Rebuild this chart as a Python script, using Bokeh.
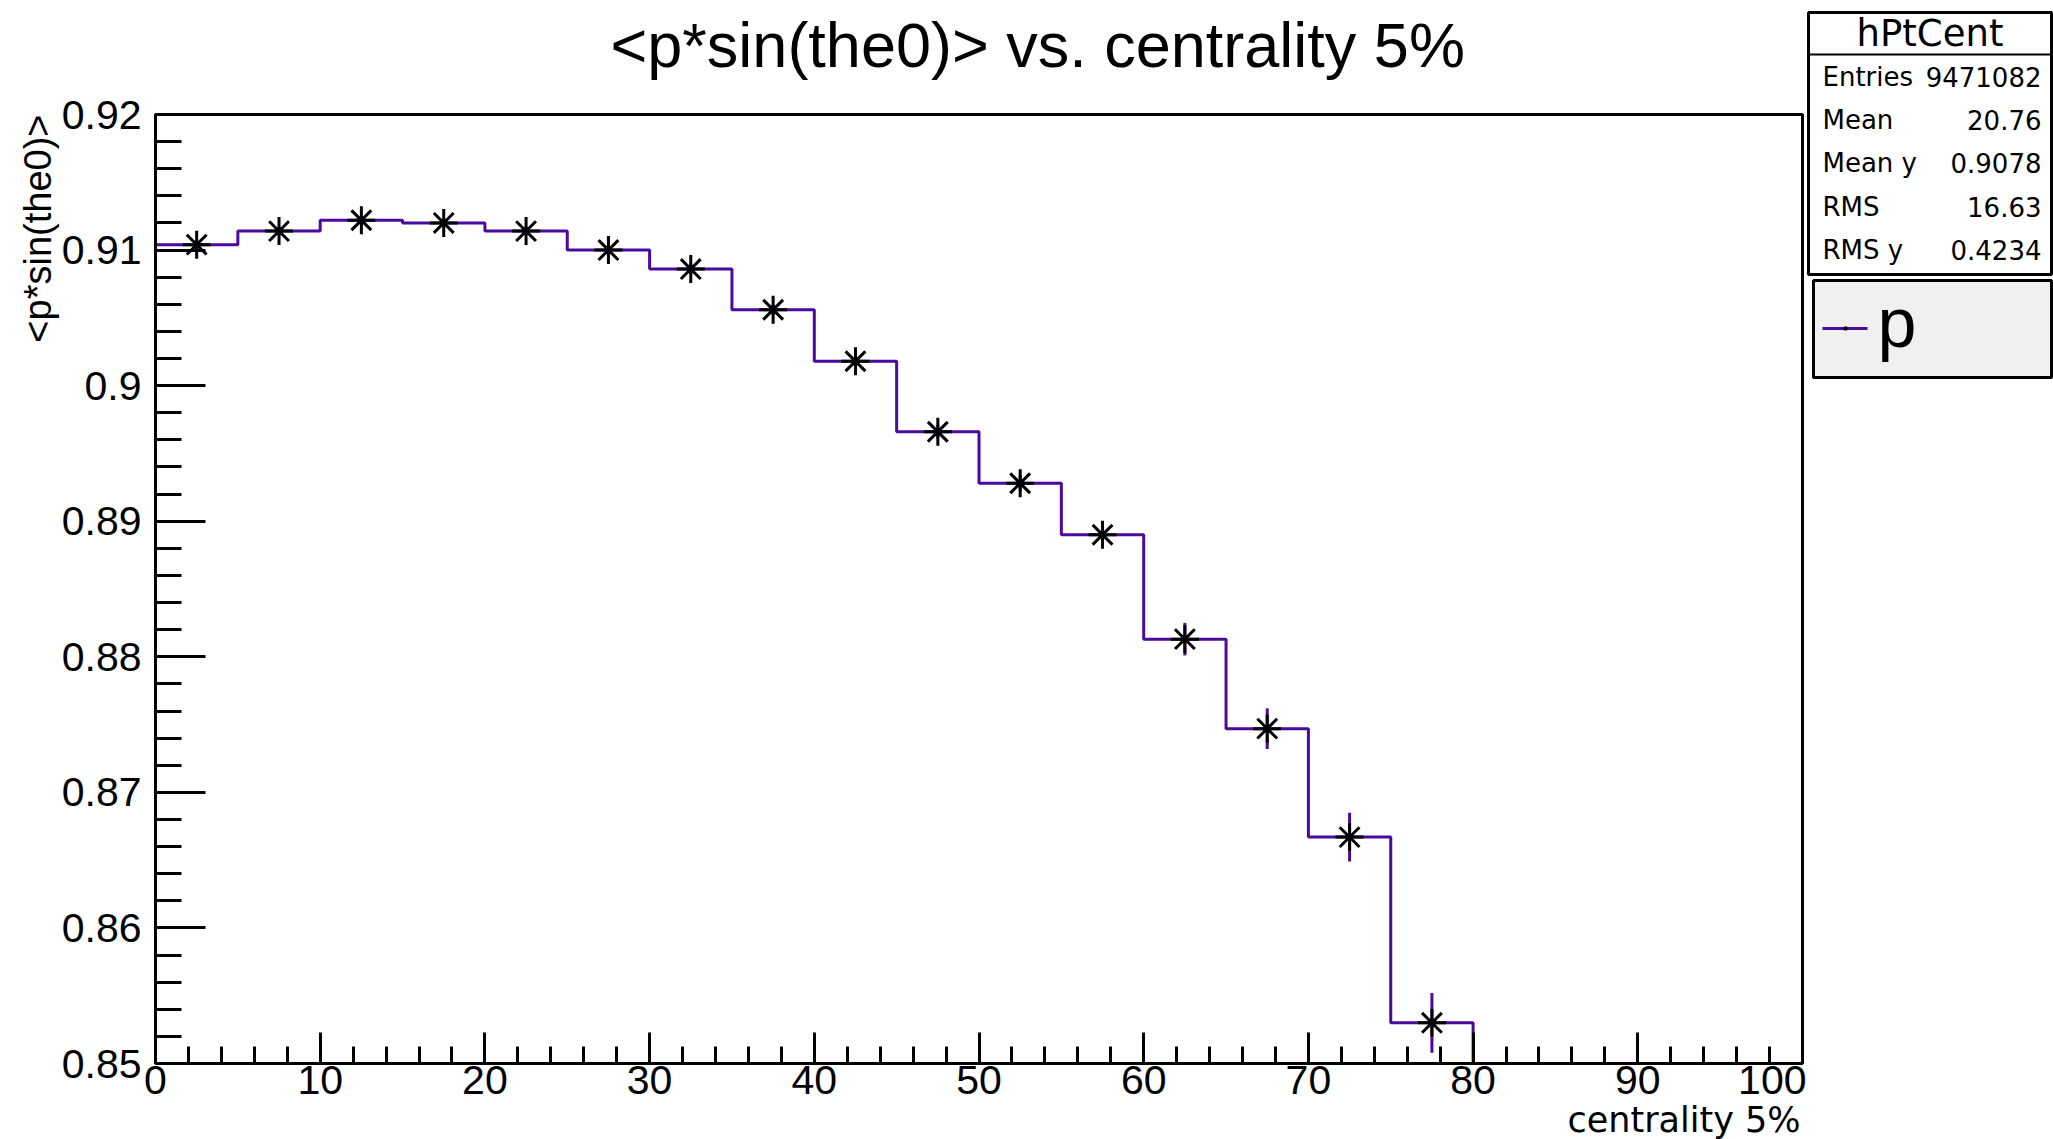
import math
from bokeh.plotting import figure
from bokeh.layouts import row, column
from bokeh.models import Range1d, FixedTicker, Title
from bokeh.core.properties import value
from bokeh.embed import file_html
from bokeh.resources import INLINE

# ---------------- data ----------------
bin_low = [0, 5, 10, 15, 20, 25, 30, 35, 40, 45, 50, 55, 60, 65, 70, 75, 80, 85, 90, 95]
bin_width = 5
mean_pt = [0.9104, 0.9114, 0.9122, 0.9120, 0.9114, 0.9100, 0.9086, 0.9056, 0.9018, 0.8966,
           0.8928, 0.8890, 0.8813, 0.8747, 0.8667, 0.8530, 0.0, 0.0, 0.0, 0.0]
mean_err = [0.0003, 0.0003, 0.0003, 0.0003, 0.0003, 0.0003, 0.0004, 0.0004, 0.0005, 0.0005,
            0.0006, 0.0008, 0.0012, 0.0015, 0.0018, 0.0022, 0.0, 0.0, 0.0, 0.0]
bin_filled = [True] * 16 + [False] * 4

x_ticks = [0, 10, 20, 30, 40, 50, 60, 70, 80, 90, 100]
x_tick_labels = ["0", "10", "20", "30", "40", "50", "60", "70", "80", "90", "100"]
y_ticks = [0.85, 0.86, 0.87, 0.88, 0.89, 0.90, 0.91, 0.92]
y_tick_labels = ["0.85", "0.86", "0.87", "0.88", "0.89", "0.9", "0.91", "0.92"]

title_text = "<p*sin(the0)> vs. centrality 5%"
x_title = "centrality 5%"
y_title = "<p*sin(the0)>"
stats_title = "hPtCent"
stats_names = ["Entries", "Mean", "Mean y", "RMS", "RMS y"]
stats_values = ["9471082", "20.76", "0.9078", "16.63", "0.4234"]
legend_label = "p"

# ---------------- layout constants ----------------
W, H = 2053, 1139
FL, FR, FT, FB = 155, 1802, 114, 1063     # plot frame in window pixels
MAIN_W = 1806                              # width of the main column
TOP_H = 86                                 # title strip: window rows 0..86
BOT_Y = 1106                               # bottom edge of the main plot
OVERLAP = 8                                # x-title strip is pulled up by this much
LINE = "#4a0a9e"
FONT = "Liberation Sans"


def strip(width, height, x0, x1, y0, y1, left=0, right=0):
    """Blank helper figure whose data coordinates equal window pixels."""
    f = figure(width=width, height=height, output_backend="svg", toolbar_location=None,
               x_range=Range1d(x0, x1), y_range=Range1d(y1, y0),
               x_axis_location=None, y_axis_location=None,
               min_border_left=left, min_border_right=right,
               min_border_top=0, min_border_bottom=0)
    f.outline_line_color = None
    f.background_fill_color = "white"
    f.border_fill_color = "white"
    f.xgrid.visible = False
    f.ygrid.visible = False
    return f


# ---------------- title strip ----------------
top = strip(MAIN_W, TOP_H, FL, FR, 0, TOP_H, left=FL, right=MAIN_W - FR)
top.text(x=[610], y=[44], text=[title_text], text_font=value(FONT),
         text_font_size=value("63px"), text_align="left", text_baseline="middle",
         text_color="black")

# ---------------- main plot ----------------
p = figure(width=MAIN_W, height=BOT_Y - TOP_H, output_backend="svg", toolbar_location=None,
           x_range=Range1d(0, 100), y_range=Range1d(0.85, 0.92),
           min_border_left=FL, min_border_right=MAIN_W - FR,
           min_border_top=FT - TOP_H, min_border_bottom=BOT_Y - FB)
p.background_fill_color = "white"
p.border_fill_color = "white"
p.outline_line_color = "black"
p.outline_line_width = 3
p.xgrid.visible = False
p.ygrid.visible = False

x_minor = [v for v in range(0, 101, 2) if v % 10 != 0]
y_minor = [round(0.85 + 0.002 * k, 4) for k in range(36) if k % 5 != 0]

p.xaxis.ticker = FixedTicker(ticks=x_ticks, minor_ticks=x_minor)
p.yaxis.ticker = FixedTicker(ticks=y_ticks, minor_ticks=y_minor)
p.xaxis.major_label_overrides = {t: s for t, s in zip(x_ticks, x_tick_labels)}
p.yaxis.major_label_overrides = {t: s for t, s in zip(y_ticks, y_tick_labels)}

for ax in (p.xaxis[0], p.yaxis[0]):
    ax.axis_line_width = 3
    ax.axis_line_color = "black"
    ax.major_tick_line_width = 3
    ax.minor_tick_line_width = 3
    ax.major_tick_out = 0
    ax.minor_tick_out = 0
    ax.major_label_text_font = FONT
    ax.major_label_text_font_size = "41px"
    ax.major_label_text_color = "black"

p.xaxis.major_tick_in = 31
p.xaxis.minor_tick_in = 17
p.xaxis.major_label_standoff = 2
p.yaxis.major_tick_in = 50
p.yaxis.minor_tick_in = 26
p.yaxis.major_label_standoff = 14

# y-axis title: top-aligned, just left of the tick labels
p.add_layout(Title(text=y_title, align="right", vertical_align="bottom", offset=0, standoff=0,
                   text_font=FONT, text_font_size="38px", text_font_style="normal",
                   text_color="black"), "left")

# histogram outline (20 bins of 5 %, last four empty)
edges = bin_low + [bin_low[-1] + bin_width]
step_y = mean_pt + [0.0]
p.step(x=edges, y=step_y, mode="after", line_color=LINE, line_width=3)

cx = [b + bin_width / 2 for b, f in zip(bin_low, bin_filled) if f]
cy = [v for v, f in zip(mean_pt, bin_filled) if f]
ce = [e for e, f in zip(mean_err, bin_filled) if f]
p.segment(x0=cx, y0=[v - e for v, e in zip(cy, ce)], x1=cx, y1=[v + e for v, e in zip(cy, ce)],
          line_color=LINE, line_width=3)
p.scatter(x=cx, y=cy, marker="asterisk", size=28, line_color="black", line_width=3)

# ---------------- x-title strip (pulled up over the empty bottom of the tick-label band) ----------------
overlap = OVERLAP
bot_top = BOT_Y - overlap
bottom = strip(MAIN_W, H - bot_top, FL, FR, bot_top, H, left=FL, right=MAIN_W - FR)
bottom.background_fill_alpha = 0
bottom.border_fill_alpha = 0
try:
    bottom.margin = (-overlap, 0, 0, 0)
except Exception:
    overlap = 0
    bot_top = BOT_Y
    bottom = strip(MAIN_W, H - bot_top, FL, FR, bot_top, H, left=FL, right=MAIN_W - FR)
bottom.text(x=[1800], y=[1119], text=[x_title], text_font=value("DejaVu Sans"),
            text_font_size=value("35px"), text_align="right", text_baseline="middle",
            text_color="black")

# ---------------- stats box + legend ----------------
SIDE_W = W - MAIN_W
o = MAIN_W
side = strip(SIDE_W, H, o, W, 0, H)
side.quad(left=[1808], right=[2051], top=[12], bottom=[274],
          fill_color="white", line_color="black", line_width=3)
side.segment(x0=[1808], y0=[54], x1=[2051], y1=[54], line_color="black", line_width=2)
side.text(x=[(1808 + 2051) / 2], y=[33], text=[stats_title], text_font=value("DejaVu Sans"),
          text_font_size=value("37px"), text_align="center", text_baseline="middle",
          text_color="black")
row_y = [76, 119, 162, 206, 249]
side.text(x=[1822] * len(stats_names), y=row_y, text=stats_names,
          text_font=value("DejaVu Sans"), text_font_size=value("26px"),
          text_align="left", text_baseline="middle", text_color="black")
side.text(x=[2041] * len(stats_values), y=row_y, text=stats_values,
          text_font=value("DejaVu Sans"), text_font_size=value("26px"),
          text_align="right", text_baseline="middle", text_color="black")

side.quad(left=[1813], right=[2051], top=[280], bottom=[377],
          fill_color="#f0f0f0", line_color="black", line_width=3)
side.segment(x0=[1822], y0=[328], x1=[1867], y1=[328], line_color=LINE, line_width=3)
side.scatter(x=[1845], y=[328], marker="square", size=3, fill_color="black", line_color="black")
side.text(x=[1877], y=[322], text=[legend_label], text_font=value(FONT),
          text_font_size=value("70px"), text_align="left", text_baseline="middle",
          text_color="black")

layout = row(column(top, p, bottom, spacing=0), side, spacing=0)
open("out.html", "w").write(file_html(layout, INLINE))
